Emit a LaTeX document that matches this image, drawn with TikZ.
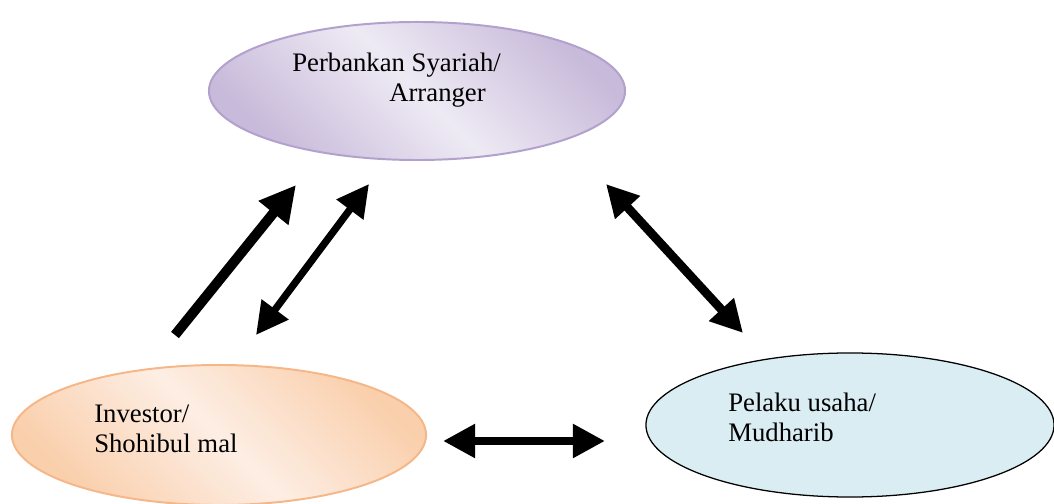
\documentclass[tikz,border=0pt]{standalone}
\usepackage{fontspec}
\setmainfont{Liberation Serif}
\usetikzlibrary{arrows.meta,positioning,shapes.geometric}

\definecolor{purpleedge}{RGB}{200,186,218}
\definecolor{purplelight}{RGB}{238,234,244}
\definecolor{purpleline}{RGB}{178,160,205}
\definecolor{orangeedge}{RGB}{250,207,172}
\definecolor{orangelight}{RGB}{253,238,228}
\definecolor{orangeline}{RGB}{246,183,136}
\definecolor{bluefill}{RGB}{218,237,243}

\begin{document}
\begin{tikzpicture}[
    x=0.025cm, y=-0.025cm,
    % --- Node styles ---
    party/.style={draw, ellipse, inner sep=0pt},
    bankshape/.style={party, line width=1.4pt, draw=purpleline,
        minimum width=10.4cm, minimum height=3.45cm, shading=axis,
        top color=purpleedge, bottom color=purpleedge,
        middle color=purplelight, shading angle=-45},
    investorshape/.style={party, line width=1.4pt, draw=orangeline,
        minimum width=10.35cm, minimum height=3.5cm, shading=axis,
        top color=orangeedge, bottom color=orangeedge,
        middle color=orangelight, shading angle=-45},
    pelakushape/.style={party, line width=0.9pt, draw=black,
        fill=bluefill, minimum width=10.2cm, minimum height=3.6cm},
    % base anchor sits on the last line
    caption/.style={font=\fontsize{19}{21.5}\selectfont, align=left,
        inner sep=0pt, anchor=base west},
    % --- Edge styles ---
    oneway/.style={-{Triangle[length=9mm,width=9mm]}, line width=0.25cm},
    twoway/.style={{Triangle[length=8mm,width=8mm]}-{Triangle[length=8mm,width=8mm]}},
]
\useasboundingbox (0,0) rectangle (1054,504);

% === The three parties ===
\node[bankshape] (bank) at (417,91) {};
\node[investorshape] (investor) at (219,435) {};
\node[pelakushape] (pelaku) at (850,425) {};

% Labels, set off the centre as in the original
\node[caption] (banktext) at (292,102)
    {Perbankan Syariah/\\\hspace*{2.425cm}Arranger};
\node[caption] (investortext) at (94,453) {Investor/\\Shohibul mal};
\node[caption] (pelakutext) at (728,442) {Pelaku usaha/\\Mudharib};

% === End points of the arrows ===
\coordinate (invout) at (175,335);
\coordinate (bankin) at (296,185);
\coordinate (bankleft) at (369,184);
\coordinate (invright) at (256,335);
\coordinate (bankright) at (606,184);
\coordinate (pelakutop) at (743,333);
\coordinate (invside) at (443,441);
\coordinate (pelakuside) at (605,441);

% Funds flow and the two-way relations
\draw[oneway] (invout) -- (bankin);
\draw[twoway, line width=0.18cm] (invright) -- (bankleft);
\draw[twoway, line width=0.22cm] (bankright) -- (pelakutop);
\draw[twoway, line width=0.22cm] (invside) -- (pelakuside);

\end{tikzpicture}
\end{document}
